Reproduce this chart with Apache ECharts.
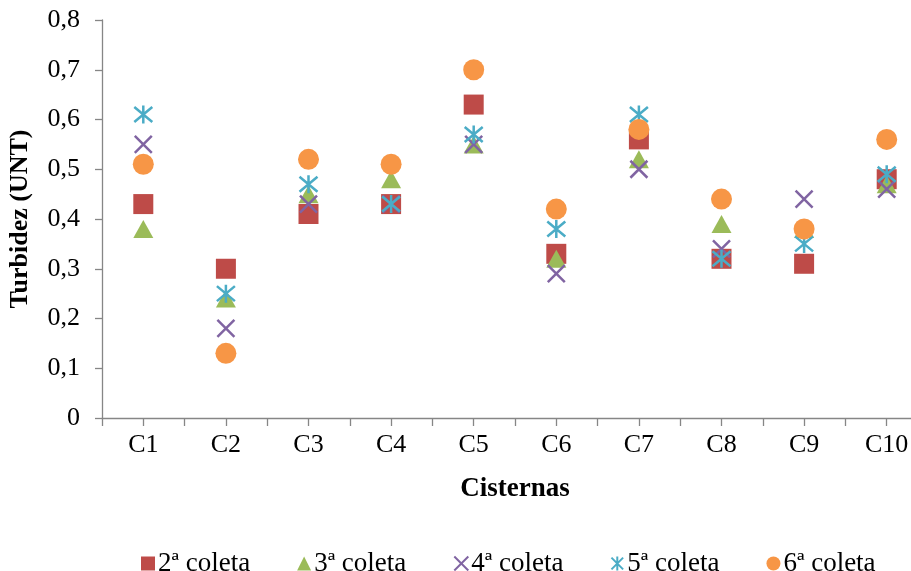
<!DOCTYPE html>
<html>
<head>
<meta charset="utf-8">
<script src="https://cdn.jsdelivr.net/npm/echarts@6/dist/echarts.min.js"></script>
<style>
  html, body { margin: 0; padding: 0; background: #fff; overflow: hidden; }
  #chart { width: 911px; height: 571px; }
</style>
</head>
<body>
<div id="chart"></div>
<script>
// Turbidity per cistern across sampling rounds
const categories = ['C1', 'C2', 'C3', 'C4', 'C5', 'C6', 'C7', 'C8', 'C9', 'C10'];
const yTicks = [0, 0.1, 0.2, 0.3, 0.4, 0.5, 0.6, 0.7, 0.8];

const coleta2 = [0.43, 0.30, 0.41, 0.43, 0.63, 0.33, 0.56, 0.32, 0.31, 0.48];
const coleta3 = [0.38, 0.24, 0.45, 0.48, 0.55, 0.32, 0.52, 0.39, 0.38, 0.47];
const coleta4 = [0.55, 0.18, 0.43, 0.43, 0.55, 0.29, 0.50, 0.34, 0.44, 0.46];
const coleta5 = [0.61, 0.25, 0.47, 0.43, 0.57, 0.38, 0.61, 0.32, 0.35, 0.49];
const coleta6 = [0.51, 0.13, 0.52, 0.51, 0.70, 0.42, 0.58, 0.44, 0.38, 0.56];

const seriesNames = ['2ª coleta', '3ª coleta', '4ª coleta', '5ª coleta', '6ª coleta'];

const FONT = '"Liberation Serif", "Times New Roman", serif';
const AXIS_COLOR = '#868686';

const crossPath = 'path://M0,0L10,10M10,0L0,10';
const starPath = 'path://M0,0L10,10M10,0L0,10M5,-1L5,11';

function points(values) {
  return values.map((v, i) => [i + 1, v]);
}

const chart = echarts.init(document.getElementById('chart'), null, { renderer: 'canvas' });

chart.setOption({
  animation: false,
  backgroundColor: '#ffffff',
  textStyle: { fontFamily: FONT },
  // the plot runs past the right edge of the canvas
  grid: { left: 102, top: 20, width: 826, height: 398, containLabel: false, outerBoundsMode: 'none' },
  xAxis: {
    type: 'value',
    min: 0.5,
    max: 10.5,
    interval: 0.5,
    name: 'Cisternas',
    nameLocation: 'middle',
    nameGap: 58,
    nameTextStyle: { fontFamily: FONT, fontSize: 27, fontWeight: 'bold', color: '#000' },
    splitLine: { show: false },
    axisLine: { show: true, lineStyle: { color: AXIS_COLOR, width: 1.3 } },
    axisTick: { show: true, length: 8, lineStyle: { color: AXIS_COLOR, width: 1.3 } },
    axisLabel: {
      fontFamily: FONT, fontSize: 26, color: '#000', margin: 14,
      showMinLabel: true, showMaxLabel: true,
      formatter: function (v) {
        const k = Math.round(v * 2) / 2;
        return Number.isInteger(k) ? categories[k - 1] : '';
      }
    }
  },
  yAxis: {
    type: 'value',
    min: 0,
    max: 0.8,
    interval: 0.1,
    name: 'Turbidez (UNT)',
    nameLocation: 'middle',
    nameGap: 69,
    nameTextStyle: { fontFamily: FONT, fontSize: 26, fontWeight: 'bold', color: '#000' },
    splitLine: { show: false },
    axisLine: { show: true, lineStyle: { color: AXIS_COLOR, width: 1.3 } },
    axisTick: { show: true, length: 7, lineStyle: { color: AXIS_COLOR, width: 1.3 } },
    axisLabel: {
      fontFamily: FONT, fontSize: 26, color: '#000', margin: 22,
      formatter: function (v) {
        const t = yTicks.reduce((a, b) => Math.abs(b - v) < Math.abs(a - v) ? b : a);
        return t === 0 ? '0' : t.toFixed(1).replace('.', ',');
      }
    }
  },
  legend: {
    left: 136,
    top: 545,
    itemGap: 47,
    itemWidth: 14,
    itemHeight: 14,
    textStyle: { fontFamily: FONT, fontSize: 27, color: '#000', padding: [0, 0, 0, -2] },
    data: seriesNames
  },
  series: [
    {
      name: seriesNames[0], type: 'scatter', data: points(coleta2),
      symbol: 'rect', symbolSize: 20,
      itemStyle: { color: '#BE4B48', opacity: 1 }
    },
    {
      name: seriesNames[1], type: 'scatter', data: points(coleta3),
      symbol: 'triangle', symbolSize: [20, 18],
      itemStyle: { color: '#9BBB59', opacity: 1 }
    },
    {
      name: seriesNames[2], type: 'scatter', data: points(coleta4),
      symbol: crossPath, symbolSize: 17,
      itemStyle: { color: 'rgba(0,0,0,0)', borderColor: '#8064A2', borderWidth: 2.5, opacity: 1 }
    },
    {
      name: seriesNames[3], type: 'scatter', data: points(coleta5),
      symbol: starPath, symbolSize: 18,
      itemStyle: { color: 'rgba(0,0,0,0)', borderColor: '#4BACC6', borderWidth: 2.5, opacity: 1 }
    },
    {
      name: seriesNames[4], type: 'scatter', data: points(coleta6),
      symbol: 'circle', symbolSize: 21,
      itemStyle: { color: '#F79646', opacity: 1 }
    }
  ]
});
</script>
</body>
</html>
